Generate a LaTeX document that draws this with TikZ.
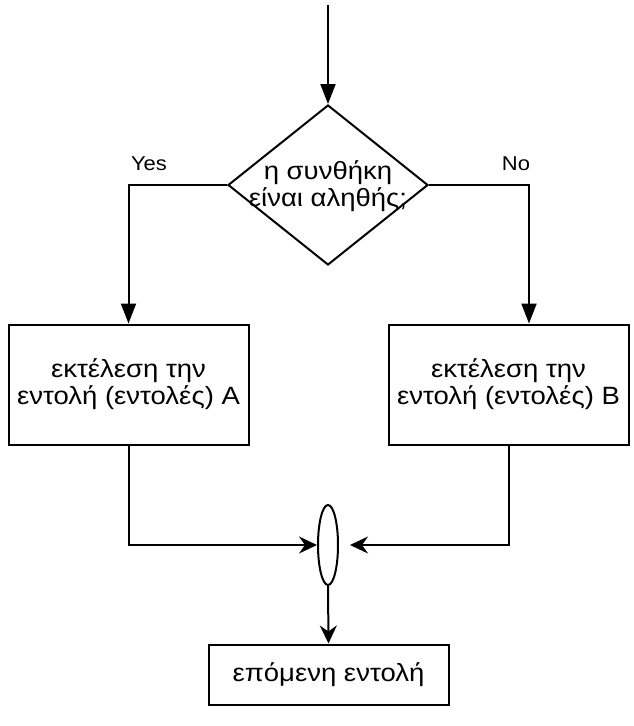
\documentclass[tikz,border=0pt]{standalone}
\usepackage{fontspec}
\setmainfont[FakeStretch=1.1]{Liberation Sans}
\usetikzlibrary{arrows.meta,shapes.geometric}
\begin{document}
\begin{tikzpicture}[x=1pt,y=-1pt,
  line width=2pt,
  txt/.style={font=\fontsize{25}{27}\selectfont, align=center},
  procbox/.style={draw, txt, minimum width=240pt, minimum height=120pt, inner sep=0pt},
  blk/.style={-{Triangle[length=20pt,width=15pt]}},
  stl/.style={-{Stealth[length=18pt,width=17pt,inset=6pt]}},
  lbl/.style={font=\fontsize{20}{24}\selectfont}]
\useasboundingbox (0,0) rectangle (634,726);
\coordinate (start) at (328,5);
\node[draw, diamond, minimum width=200pt, minimum height=160pt, inner sep=0pt] (dec) at (328,185) {};
\node[txt, inner sep=0pt] (dectxt) at (328,186) {η συνθήκη\\είναι αληθής;};
\node[procbox] (A) at (128.5,384.5) {εκτέλεση την\\εντολή (εντολές) A};
\node[procbox] (B) at (508.5,384.5) {εκτέλεση την\\εντολή (εντολές) B};
\node[draw, ellipse, minimum width=20pt, minimum height=80pt, inner sep=0pt] (m) at (328,545) {};
\node[draw, txt, minimum width=240pt, minimum height=60pt, inner sep=0pt] (C) at (328.5,674.5) {επόμενη εντολή};
\coordinate (bend) at (350,545);
\draw[blk] (start) -- (dec.north);
\draw[blk] (dec.west) -| (A.north);
\draw[blk] (dec.east) -| ([xshift=20.5pt]B.north);
\node[lbl] (yes) at (149,164) {Yes};
\node[lbl] (no) at (516,164) {No};
\draw[stl] (A.south) |- (m.west);
\draw[stl] (B.south) |- (bend);
\draw[stl] (m.south) -- (C.north);
\end{tikzpicture}
\end{document}
